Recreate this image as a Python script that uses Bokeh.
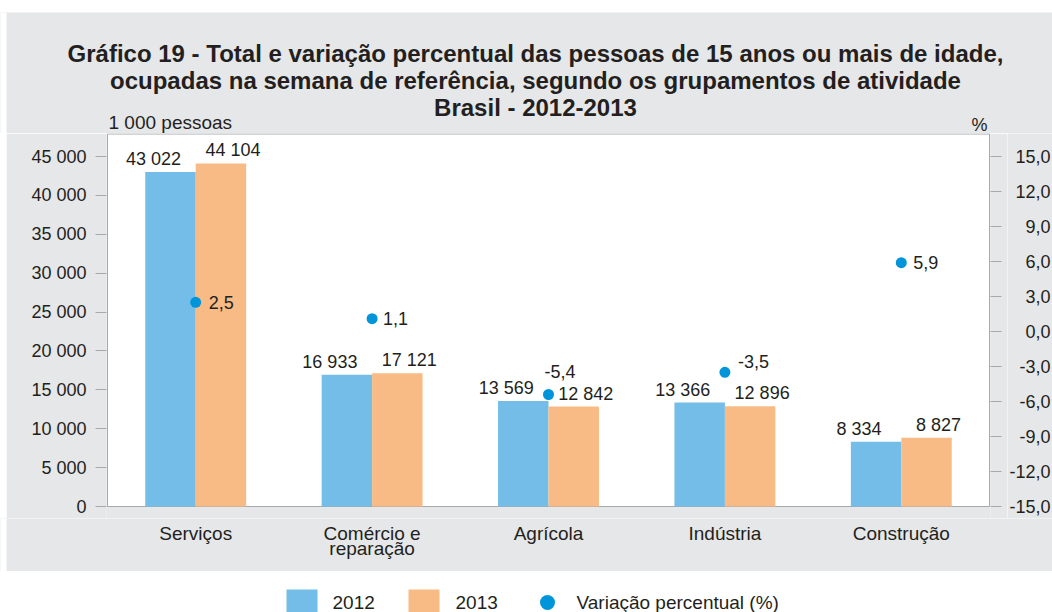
import numpy as np
from bokeh.plotting import figure
from bokeh.models import (Range1d, LinearAxis, FixedTicker, ColumnDataSource,
                          LabelSet, Spacer)
from bokeh.core.properties import value
from bokeh.layouts import column, row
from bokeh.embed import file_html
from bokeh.resources import INLINE

# ---------------- data ----------------
categories = ["Serviços", "Comércio e\nreparação", "Agrícola", "Indústria", "Construção"]
v2012 = [43022, 16933, 13569, 13366, 8334]
v2013 = [44104, 17121, 12842, 12896, 8827]
pct = [2.5, 1.1, -5.4, -3.5, 5.9]
pct_labels = ["2,5", "1,1", "-5,4", "-3,5", "5,9"]
left_ticks = [0, 5000, 10000, 15000, 20000, 25000, 30000, 35000, 40000, 45000]
left_tick_labels = ["0", "5 000", "10 000", "15 000", "20 000", "25 000",
                    "30 000", "35 000", "40 000", "45 000"]
right_ticks = [-15, -12, -9, -6, -3, 0, 3, 6, 9, 12, 15]
right_tick_labels = ["-15,0", "-12,0", "-9,0", "-6,0", "-3,0", "0,0",
                     "3,0", "6,0", "9,0", "12,0", "15,0"]
series_names = ["2012", "2013", "Variação percentual (%)"]
title_lines = [
    "Gráfico 19 - Total e variação percentual das pessoas de 15 anos ou mais de idade,",
    "ocupadas na semana de referência, segundo os grupamentos de atividade",
    "Brasil - 2012-2013",
]
left_axis_title = "1 000 pessoas"
right_axis_title = "%"

# ---------------- style ----------------
FONT = value("Liberation Sans")
FONTNAME = "Liberation Sans"
TXT = "#231f20"
GREY_BG = "#e6e7e8"
FRAME_LINE = "#a7a9ac"
C2012 = "#74bde8"
C2013 = "#f9bb85"
CDOT = "#0095da"
pct_label_dx = [13, 11, -4, 13, 12]
pct_label_dy = [0, 0, 23, 11, 0]

# ---------------- geometry (page px) ----------------
PAGE_W = 1052
GREY_X0 = 6            # grey panel starts here
TOP_Y = 12             # grey panel top
BOX_L, BOX_R = 107, 989
BOX_T, BOX_B = 133.5, 506
Y45 = 156              # pixel of 45 000 / 15,0
MAIN_T, MAIN_B = 133, 518
FOOT_B = 571
PAGE_H = 612
NCAT = len(categories)
BOX_W = BOX_R - BOX_L
K = 45000.0 / (BOX_B - Y45)      # units per pixel (left axis)
KP = 30.0 / (BOX_B - Y45)        # units per pixel (right axis)
XU = NCAT / BOX_W                # category units per pixel

FL = BOX_L - 1 - GREY_X0         # left border of main figure
FW = BOX_W + 2                   # frame width
MAIN_R = 17
MAIN_W = FL + FW + MAIN_R
RIGHT_W = PAGE_W - GREY_X0 - MAIN_W
MAIN_H = MAIN_B - MAIN_T
HEAD_H = MAIN_T - TOP_Y
FOOT_H = FOOT_B - MAIN_B
LEG_H = PAGE_H - FOOT_B


def blank(fig, bg):
    fig.outline_line_color = None
    fig.xgrid.visible = False
    fig.ygrid.visible = False
    fig.background_fill_color = bg
    fig.border_fill_color = bg


def plain_fig(w, h, xr, yr):
    f = figure(width=w, height=h, output_backend="svg", toolbar_location=None,
               x_range=xr, y_range=yr, x_axis_location=None, y_axis_location=None,
               min_border_left=0, min_border_right=0, min_border_top=0,
               min_border_bottom=0)
    return f


# ---------------- header (page-pixel coordinates) ----------------
head = plain_fig(PAGE_W, HEAD_H, Range1d(0, PAGE_W), Range1d(HEAD_H, 0))
blank(head, GREY_BG)
head.quad(left=[0], right=[GREY_X0], top=[0], bottom=[HEAD_H], color="white", line_color=None)
head.text(x=[535] * 3, y=[53 - TOP_Y, 80 - TOP_Y, 107 - TOP_Y], text=title_lines,
          text_font=FONT, text_font_style="bold", text_font_size="24px", text_color=TXT,
          text_align="center", text_baseline="alphabetic")
head.text(x=[108], y=[122 - TOP_Y], text=[left_axis_title], text_font=FONT,
          text_font_size="19px", text_color=TXT, text_align="left",
          text_baseline="alphabetic")
head.text(x=[979], y=[124 - TOP_Y], text=[right_axis_title], text_font=FONT,
          text_font_size="18px", text_color=TXT, text_align="center",
          text_baseline="alphabetic")

# ---------------- main plot ----------------
xr = Range1d(-XU, NCAT + XU)
yr = Range1d(-(MAIN_B - BOX_B) * K, (BOX_B - MAIN_T) * K)
pr = Range1d(-15 - (MAIN_B - BOX_B) * KP, -15 + (BOX_B - MAIN_T) * KP)
p = figure(width=MAIN_W, height=MAIN_H, output_backend="svg", toolbar_location=None,
           x_range=xr, y_range=yr, x_axis_location=None, y_axis_location="left",
           min_border_left=FL, min_border_right=MAIN_R, min_border_top=0,
           min_border_bottom=0)
p.border_fill_color = GREY_BG
p.background_fill_color = GREY_BG
p.outline_line_color = None
p.xgrid.visible = False
p.ygrid.visible = False

# white plotting box with its grey outline
p.quad(left=[0], right=[NCAT], bottom=[0], top=[(BOX_B - BOX_T) * K],
       fill_color="white", line_color=FRAME_LINE, line_width=1)

ya = p.yaxis[0]
ya.ticker = FixedTicker(ticks=left_ticks)
ya.major_label_overrides = {t: s for t, s in zip(left_ticks, left_tick_labels)}
ya.axis_line_color = None
ya.major_tick_in = 0
ya.major_tick_out = 11
ya.major_tick_line_color = FRAME_LINE
ya.minor_tick_line_color = None
ya.major_label_standoff = 9
ya.major_label_text_font = FONTNAME
ya.major_label_text_font_size = "18px"
ya.major_label_text_color = TXT

p.extra_y_ranges = {"pct": pr}
ra = LinearAxis(y_range_name="pct", ticker=FixedTicker(ticks=right_ticks))
ra.major_label_overrides = {t: "" for t in right_ticks}
ra.major_label_text_font_size = "1px"
ra.major_label_standoff = 0
ra.axis_line_color = None
ra.major_tick_in = 0
ra.major_tick_out = 11
ra.major_tick_line_color = FRAME_LINE
ra.minor_tick_line_color = None
p.add_layout(ra, "right")

idx = np.arange(NCAT)
bw = 0.286
x12 = idx + 0.5 - bw / 2
x13 = idx + 0.5 + bw / 2
fmt = lambda v: f"{v:,}".replace(",", " ")
src = ColumnDataSource(dict(x12=x12, x13=x13, v12=v2012, v13=v2013,
                            t12=[fmt(v) for v in v2012], t13=[fmt(v) for v in v2013],
                            xc=idx + 0.5, pct=pct, pl=pct_labels,
                            pdx=pct_label_dx, pdy=pct_label_dy))
p.vbar(x="x12", top="v12", width=bw, source=src, color=C2012, line_color=None)
p.vbar(x="x13", top="v13", width=bw, source=src, color=C2013, line_color=None)
p.scatter(x="xc", y="pct", y_range_name="pct", source=src, size=11,
          color=CDOT, line_color=None)

common = dict(text_font=FONT, text_color=TXT, text_font_size="18px")
p.add_layout(LabelSet(x="x12", y="v12", text="t12", source=src, x_offset=-17, y_offset=7,
                      text_align="center", text_baseline="alphabetic", **common))
p.add_layout(LabelSet(x="x13", y="v13", text="t13", source=src, x_offset=12, y_offset=7,
                      text_align="center", text_baseline="alphabetic", **common))
p.add_layout(LabelSet(x="xc", y="pct", text="pl", source=src, y_range_name="pct",
                      x_offset="pdx", y_offset="pdy",
                      text_align="left", text_baseline="middle", **common))

# ---------------- right tick labels (right aligned) ----------------
rt = figure(width=RIGHT_W, height=MAIN_H, output_backend="svg", toolbar_location=None,
            x_range=Range1d(0, RIGHT_W), y_range=pr,
            x_axis_location=None, y_axis_location=None,
            min_border_left=0, min_border_right=0, min_border_top=0, min_border_bottom=0)
blank(rt, GREY_BG)
rt.text(x=[RIGHT_W - 2] * len(right_ticks), y=right_ticks, text=right_tick_labels,
        text_font=FONT, text_font_size="18px", text_color=TXT,
        text_align="right", text_baseline="middle")

# ---------------- category labels ----------------
fx0 = -BOX_L * XU
foot = plain_fig(PAGE_W, FOOT_H, Range1d(fx0, fx0 + PAGE_W * XU), Range1d(FOOT_H, 0))
blank(foot, GREY_BG)
foot.quad(left=[fx0], right=[fx0 + GREY_X0 * XU], top=[0], bottom=[FOOT_H],
          color="white", line_color=None)
line1 = [c.split("\n")[0] for c in categories]
line2 = [c.split("\n")[1] if "\n" in c else "" for c in categories]
foot.text(x=idx + 0.5, y=[533 - MAIN_B] * NCAT, text=line1, text_font=FONT,
          text_font_size="19px", text_color=TXT, text_align="center",
          text_baseline="alphabetic")
foot.text(x=idx + 0.5, y=[548 - MAIN_B] * NCAT, text=line2, text_font=FONT,
          text_font_size="19px", text_color=TXT, text_align="center",
          text_baseline="alphabetic")

# ---------------- legend strip ----------------
lg = plain_fig(PAGE_W, LEG_H, Range1d(0, PAGE_W), Range1d(LEG_H, 0))
blank(lg, "white")
sq_x = [286, 408]
lg.quad(left=sq_x, right=[s + 31 for s in sq_x], top=[589 - FOOT_B] * 2,
        bottom=[LEG_H] * 2, color=[C2012, C2013], line_color=None)
lg.scatter(x=[547], y=[602 - FOOT_B], size=15, color=CDOT, line_color=None)
lg.text(x=[332, 455, 576], y=[602 - FOOT_B] * 3, text=series_names,
        text_font=FONT, text_font_size="19px", text_color=TXT,
        text_align="left", text_baseline="middle")

mid = row(Spacer(width=GREY_X0, height=MAIN_H), column(row(p, rt)))
layout = column(Spacer(width=PAGE_W, height=TOP_Y), head, mid, foot, lg)
open("out.html", "w").write(file_html(layout, INLINE))
